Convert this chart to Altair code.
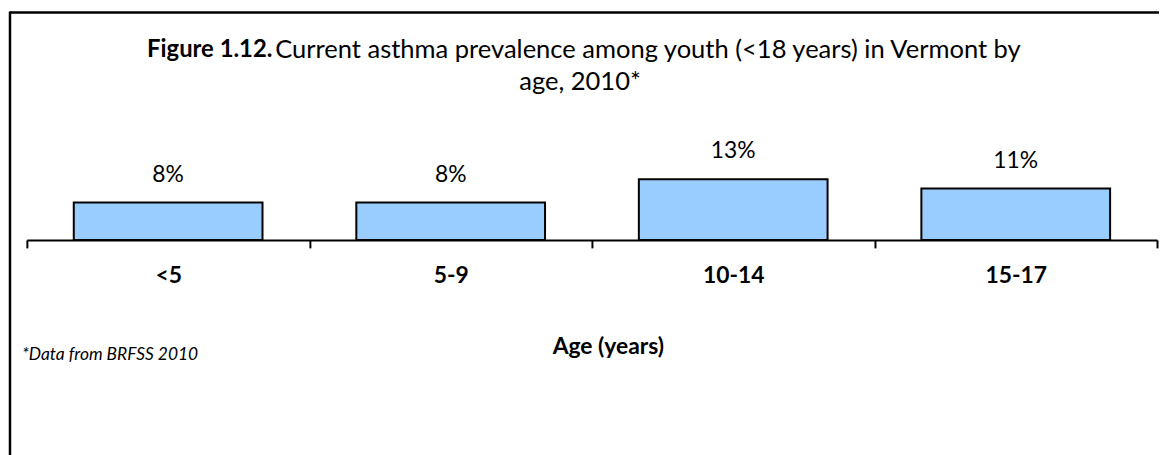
import altair as alt
import pandas as pd

ages = ["<5", "5-9", "10-14", "15-17"]
values = [8, 8, 13, 11]
value_labels = ["8%", "8%", "13%", "11%"]

title_bold = ["Figure 1.12."]
title_rest = ["Current asthma prevalence among youth (<18 years) in Vermont by"]
title_line2 = ["age, 2010*"]
footnote = ["*Data from BRFSS 2010"]
x_title = "Age (years)"

FONT = "Lato"
W, H = 1138, 94
PAD_L, PAD_T, PAD_R = 19, 138, 2

df = pd.DataFrame({"age": ages, "value": values, "label": value_labels})

xenc = alt.X(
    "age:N",
    sort=ages,
    scale=alt.Scale(paddingInner=0, paddingOuter=0),
    axis=alt.Axis(
        title=x_title,
        labelAngle=0,
        tickBand="extent",
        domainColor="black",
        domainWidth=2,
        tickColor="black",
        tickWidth=2,
        tickSize=8,
        labelFont=FONT,
        labelFontSize=23,
        labelFontWeight="bold",
        labelColor="black",
        labelPadding=17,
        titleFont=FONT,
        titleFontSize=23,
        titleFontWeight="bold",
        titleColor="black",
        titlePadding=48,
        titleX=612 - 8 - PAD_L,
        titleAlign="center",
    ),
)
yenc = alt.Y("value:Q", scale=alt.Scale(domain=[0, 20]), axis=None)

bars = alt.Chart(df).mark_bar(
    fill="#99CCFF", stroke="black", strokeWidth=2, width=alt.RelativeBandSize(0.668)
).encode(x=xenc, y=yenc)
labels = alt.Chart(df).mark_text(font=FONT, fontSize=23, color="black", baseline="alphabetic", dy=-21).encode(
    x=alt.X("age:N", sort=ages), y=alt.Y("value:Q"), text="label:N"
)

t1 = alt.Chart(pd.DataFrame({"t": title_bold})).mark_text(
    font=FONT, fontSize=24, fontWeight="bold", align="left", baseline="middle", color="black"
).encode(x=alt.value(148 - 8 - PAD_L), y=alt.value(49 - 8 - PAD_T), text="t:N")
t2 = alt.Chart(pd.DataFrame({"t": title_rest})).mark_text(
    font=FONT, fontSize=25.7, align="left", baseline="middle", color="black"
).encode(x=alt.value(277 - 8 - PAD_L), y=alt.value(49 - 8 - PAD_T), text="t:N")
t3 = alt.Chart(pd.DataFrame({"t": title_line2})).mark_text(
    font=FONT, fontSize=25.7, align="center", baseline="middle", color="black"
).encode(x=alt.value(584 - 8 - PAD_L), y=alt.value(81 - 8 - PAD_T), text="t:N")
fn = alt.Chart(pd.DataFrame({"t": footnote})).mark_text(
    font=FONT, fontSize=17.5, fontStyle="italic", align="left", baseline="middle", color="black"
).encode(x=alt.value(22 - 8 - PAD_L), y=alt.value(356 - 8 - PAD_T), text="t:N")

border_l = alt.Chart(pd.DataFrame({"a": [0]})).mark_rule(color="black", strokeWidth=2.5).encode(
    x=alt.value(10 - 8 - PAD_L), y=alt.value(10 - 8 - PAD_T), y2=alt.value(460)
)
border_t = alt.Chart(pd.DataFrame({"a": [0]})).mark_rule(color="black", strokeWidth=2.5).encode(
    x=alt.value(10 - 8 - PAD_L), x2=alt.value(W + 40), y=alt.value(11 - 8 - PAD_T)
)

chart = alt.layer(bars, labels, t1, t2, t3, fn, border_l, border_t).properties(
    width=W,
    height=H,
    autosize=alt.AutoSizeParams(type="none"),
    padding={"left": PAD_L, "top": PAD_T, "right": PAD_R, "bottom": 447 - PAD_T - H},
    background="white",
).configure_view(stroke=None)

chart.save("out.html", embed_options={"renderer": "svg", "actions": False})
